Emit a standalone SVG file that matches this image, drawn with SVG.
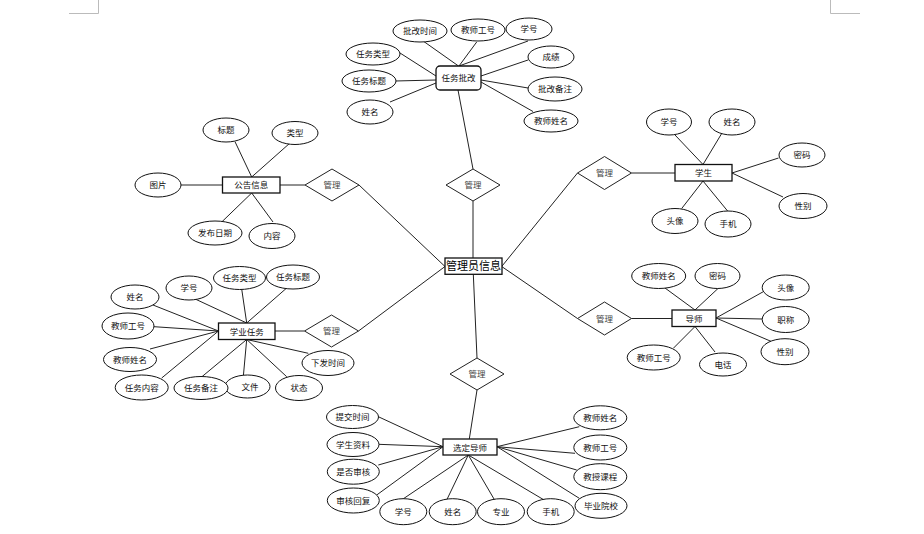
<svg xmlns="http://www.w3.org/2000/svg" width="924" height="534" viewBox="0 0 924 534">
<style>
.e{fill:#fff;stroke:#111;stroke-width:1}
.r{fill:#fff;stroke:#111;stroke-width:1.3}
.d{fill:#fff;stroke:#222;stroke-width:1}
.t{font-family:"Noto Sans CJK SC","Liberation Sans",sans-serif;font-size:8.5px;fill:#111;text-anchor:middle}
.dt{font-family:"Noto Sans CJK SC","Liberation Sans",sans-serif;font-size:8.5px;fill:#444;text-anchor:middle}
.big{font-family:"Noto Sans CJK SC","Liberation Sans",sans-serif;font-size:11px;fill:#000;text-anchor:middle}
.c line{stroke:#222;stroke-width:1}
.crop{stroke:#bbb;stroke-width:1;fill:none}
</style>
<rect width="924" height="534" fill="#fff"/>
<path class="crop" d="M98.5 0V13.5H69"/>
<path class="crop" d="M830.5 0V13.5H860"/>

<g id="connectors" class="c">
<!-- 任务批改 -->
<line x1="421.7" y1="40" x2="458.5" y2="66"/>
<line x1="476.7" y1="42" x2="459" y2="66"/>
<line x1="528" y1="41" x2="459" y2="66"/>
<line x1="400" y1="53" x2="436" y2="76"/>
<line x1="395" y1="81" x2="436" y2="80"/>
<line x1="390" y1="102" x2="436" y2="83"/>
<line x1="528" y1="60" x2="481" y2="76"/>
<line x1="528" y1="88" x2="481" y2="80"/>
<line x1="533" y1="111.5" x2="481" y2="82"/>
<line x1="458" y1="90" x2="473" y2="169"/>
<!-- 公告信息 -->
<line x1="235" y1="141.7" x2="251.7" y2="177"/>
<line x1="290" y1="143" x2="251.7" y2="177"/>
<line x1="181" y1="185" x2="222.5" y2="185"/>
<line x1="280" y1="185" x2="305" y2="185"/>
<line x1="251.7" y1="193" x2="221.7" y2="222"/>
<line x1="251.7" y1="193" x2="273" y2="222"/>
<line x1="359" y1="185" x2="445" y2="266.5"/>
<!-- 学生 -->
<line x1="675" y1="135" x2="703" y2="164.5"/>
<line x1="721.7" y1="133.5" x2="703" y2="164.5"/>
<line x1="732" y1="173" x2="778.5" y2="158"/>
<line x1="732" y1="173" x2="783" y2="197"/>
<line x1="703" y1="181" x2="681.7" y2="208.5"/>
<line x1="703" y1="181" x2="728" y2="211.5"/>
<line x1="675" y1="173" x2="631.5" y2="173"/>
<line x1="577.5" y1="173" x2="501.7" y2="266.5"/>
<!-- 管理员信息 -->
<line x1="473" y1="201" x2="473" y2="258"/>
<line x1="473.3" y1="274" x2="477" y2="358"/>
<!-- 学业任务 -->
<line x1="193" y1="298" x2="246.7" y2="323"/>
<line x1="241.7" y1="289" x2="246.7" y2="323"/>
<line x1="286.7" y1="288" x2="246.7" y2="323"/>
<line x1="153" y1="305" x2="218.5" y2="331"/>
<line x1="154" y1="326.7" x2="218.5" y2="331"/>
<line x1="150" y1="349" x2="218.5" y2="331"/>
<line x1="161.7" y1="378" x2="218.5" y2="331"/>
<line x1="200" y1="378.3" x2="246.7" y2="339.5"/>
<line x1="243.3" y1="376.7" x2="246.7" y2="339.5"/>
<line x1="286.7" y1="376.7" x2="246.7" y2="339.5"/>
<line x1="308.3" y1="353.3" x2="246.7" y2="339.5"/>
<line x1="275" y1="331" x2="304.5" y2="331"/>
<line x1="358.5" y1="331" x2="445" y2="266.5"/>
<!-- 导师 -->
<line x1="695" y1="310" x2="665" y2="288"/>
<line x1="695" y1="310" x2="718" y2="288.5"/>
<line x1="716" y1="318" x2="763.3" y2="291.7"/>
<line x1="716" y1="318" x2="762.3" y2="319"/>
<line x1="716" y1="318" x2="773.3" y2="342.3"/>
<line x1="695" y1="326.5" x2="673.3" y2="348.3"/>
<line x1="695" y1="326.5" x2="715" y2="352"/>
<line x1="672" y1="318.5" x2="631.5" y2="318.5"/>
<line x1="577.5" y1="318.5" x2="501.7" y2="266.5"/>
<!-- 选定导师 -->
<line x1="477" y1="390" x2="469.3" y2="439"/>
<line x1="378.3" y1="416.7" x2="443" y2="446.7"/>
<line x1="378.3" y1="444.3" x2="443" y2="446.7"/>
<line x1="378.3" y1="465" x2="443" y2="446.7"/>
<line x1="376.7" y1="495" x2="443" y2="446.7"/>
<line x1="497" y1="446.7" x2="579.3" y2="426.7"/>
<line x1="497" y1="446.7" x2="575" y2="453.3"/>
<line x1="497" y1="446.7" x2="576.7" y2="470"/>
<line x1="497" y1="446.7" x2="579.3" y2="498.3"/>
<line x1="468.3" y1="455" x2="400" y2="501"/>
<line x1="468.3" y1="455" x2="446.7" y2="500"/>
<line x1="468.3" y1="455" x2="495" y2="500.7"/>
<line x1="468.3" y1="455" x2="546.7" y2="501.5"/>
</g>

<!-- 任务批改 cluster -->
<g id="task-review">
<rect class="r" x="436" y="66" width="45" height="24" rx="4"/>
<text class="t" x="458.5" y="81">任务批改</text>
</g>
<g id="tr-time"><ellipse class="e" cx="420" cy="31" rx="27" ry="11"/><text class="t" x="420" y="34">批改时间</text></g>
<g id="tr-tno"><ellipse class="e" cx="478" cy="30" rx="27" ry="11"/><text class="t" x="478" y="33">教师工号</text></g>
<g id="tr-sno"><ellipse class="e" cx="529" cy="29" rx="23" ry="11"/><text class="t" x="529" y="32">学号</text></g>
<g id="tr-type"><ellipse class="e" cx="373" cy="54" rx="27" ry="11"/><text class="t" x="373" y="57">任务类型</text></g>
<g id="tr-title"><ellipse class="e" cx="369" cy="81" rx="27" ry="11"/><text class="t" x="369" y="84">任务标题</text></g>
<g id="tr-name"><ellipse class="e" cx="370" cy="112" rx="23" ry="12"/><text class="t" x="370" y="115">姓名</text></g>
<g id="tr-score"><ellipse class="e" cx="551" cy="57" rx="23" ry="11"/><text class="t" x="551" y="60">成绩</text></g>
<g id="tr-note"><ellipse class="e" cx="555" cy="89" rx="27" ry="12"/><text class="t" x="555" y="92">批改备注</text></g>
<g id="tr-tname"><ellipse class="e" cx="551" cy="121" rx="27" ry="11"/><text class="t" x="551" y="124">教师姓名</text></g>

<!-- 公告信息 cluster -->
<g id="notice"><rect class="r" x="222.5" y="177" width="57.5" height="16"/><text class="t" x="251.2" y="188">公告信息</text></g>
<g id="n-title"><ellipse class="e" cx="226" cy="130" rx="23" ry="12"/><text class="t" x="226" y="133">标题</text></g>
<g id="n-type"><ellipse class="e" cx="295" cy="133" rx="23" ry="11.5"/><text class="t" x="295" y="136">类型</text></g>
<g id="n-pic"><ellipse class="e" cx="158" cy="185" rx="23" ry="12"/><text class="t" x="158" y="188">图片</text></g>
<g id="n-date"><ellipse class="e" cx="215" cy="233" rx="27" ry="12"/><text class="t" x="215" y="236">发布日期</text></g>
<g id="n-content"><ellipse class="e" cx="272" cy="236" rx="23" ry="12.5"/><text class="t" x="272" y="239">内容</text></g>
<g id="d-notice"><polygon class="d" points="305,185 332,169 359,185 332,201"/><text class="dt" x="332" y="188">管理</text></g>

<!-- 任务批改 diamond -->
<g id="d-review"><polygon class="d" points="446,185 473,169 500,185 473,201"/><text class="dt" x="473" y="188">管理</text></g>

<!-- 学生 cluster -->
<g id="student"><rect class="r" x="675" y="164.5" width="57" height="16.5"/><text class="t" x="703.5" y="176">学生</text></g>
<g id="s-sno"><ellipse class="e" cx="669" cy="122" rx="22.5" ry="13"/><text class="t" x="669" y="125">学号</text></g>
<g id="s-name"><ellipse class="e" cx="732" cy="122" rx="23" ry="13"/><text class="t" x="732" y="125">姓名</text></g>
<g id="s-pwd"><ellipse class="e" cx="802" cy="155" rx="23" ry="12"/><text class="t" x="802" y="158">密码</text></g>
<g id="s-sex"><ellipse class="e" cx="803" cy="206" rx="24" ry="12.5"/><text class="t" x="803" y="209">性别</text></g>
<g id="s-avatar"><ellipse class="e" cx="675" cy="221" rx="23" ry="12.5"/><text class="t" x="675" y="224">头像</text></g>
<g id="s-phone"><ellipse class="e" cx="728" cy="224" rx="23" ry="13"/><text class="t" x="728" y="227">手机</text></g>
<g id="d-student"><polygon class="d" points="577.5,173 604.5,156.5 631.5,173 604.5,189.5"/><text class="dt" x="604.5" y="176">管理</text></g>

<!-- 管理员信息 -->
<g id="admin"><rect class="r" x="445" y="258" width="57" height="16.3"/><text class="big" x="473.5" y="270">管理员信息</text></g>

<!-- 学业任务 cluster -->
<g id="task"><rect class="r" x="218.5" y="323" width="56.5" height="16.5"/><text class="t" x="246.7" y="334.5">学业任务</text></g>
<g id="t-sno"><ellipse class="e" cx="189" cy="288" rx="23" ry="12"/><text class="t" x="189" y="291">学号</text></g>
<g id="t-type"><ellipse class="e" cx="239.5" cy="278" rx="26" ry="11.5"/><text class="t" x="239.5" y="281">任务类型</text></g>
<g id="t-title"><ellipse class="e" cx="293" cy="277" rx="26.5" ry="12"/><text class="t" x="293" y="280">任务标题</text></g>
<g id="t-name"><ellipse class="e" cx="135" cy="297" rx="24" ry="12"/><text class="t" x="135" y="300">姓名</text></g>
<g id="t-tno"><ellipse class="e" cx="128" cy="326" rx="26" ry="13"/><text class="t" x="128" y="329">教师工号</text></g>
<g id="t-tname"><ellipse class="e" cx="130" cy="359.5" rx="26.5" ry="12"/><text class="t" x="130" y="362.5">教师姓名</text></g>
<g id="t-content"><ellipse class="e" cx="141.7" cy="387.5" rx="26.5" ry="12.5"/><text class="t" x="141.7" y="390.5">任务内容</text></g>
<g id="t-file"><ellipse class="e" cx="247.5" cy="386.5" rx="22.5" ry="11.5"/><text class="t" x="250" y="389.5">文件</text></g>
<g id="t-note"><ellipse class="e" cx="201" cy="388" rx="27" ry="11.5"/><text class="t" x="201" y="391">任务备注</text></g>
<g id="t-state"><ellipse class="e" cx="299" cy="388" rx="23.5" ry="12.5"/><text class="t" x="299" y="391">状态</text></g>
<g id="t-time"><ellipse class="e" cx="328" cy="363" rx="26" ry="12.5"/><text class="t" x="328" y="366">下发时间</text></g>
<g id="d-task"><polygon class="d" points="304.5,331 331.5,315 358.5,331 331.5,347"/><text class="dt" x="331.5" y="334">管理</text></g>

<!-- 导师 cluster -->
<g id="tutor"><rect class="r" x="672" y="310" width="44" height="16.5"/><text class="t" x="694" y="321.5">导师</text></g>
<g id="u-tname"><ellipse class="e" cx="658.7" cy="276" rx="27" ry="12.5"/><text class="t" x="658.7" y="279">教师姓名</text></g>
<g id="u-pwd"><ellipse class="e" cx="717.5" cy="276" rx="22.5" ry="12.5"/><text class="t" x="717.5" y="279">密码</text></g>
<g id="u-avatar"><ellipse class="e" cx="785.7" cy="287.5" rx="23.5" ry="12.5"/><text class="t" x="785.7" y="290.5">头像</text></g>
<g id="u-title"><ellipse class="e" cx="785.7" cy="319.5" rx="23.5" ry="13"/><text class="t" x="785.7" y="322.5">职称</text></g>
<g id="u-sex"><ellipse class="e" cx="785" cy="351.7" rx="24" ry="13"/><text class="t" x="785" y="354.7">性别</text></g>
<g id="u-tno"><ellipse class="e" cx="653.7" cy="357.5" rx="26.5" ry="12.5"/><text class="t" x="653.7" y="360.5">教师工号</text></g>
<g id="u-tel"><ellipse class="e" cx="723" cy="364.5" rx="23.5" ry="11.5"/><text class="t" x="723" y="367.5">电话</text></g>
<g id="d-tutor"><polygon class="d" points="577.5,318.5 604.5,302 631.5,318.5 604.5,335"/><text class="dt" x="604.5" y="321.5">管理</text></g>

<!-- 选定导师 cluster -->
<g id="choose"><rect class="r" x="443" y="439" width="54" height="16"/><text class="t" x="470" y="450.5">选定导师</text></g>
<g id="d-choose"><polygon class="d" points="450,374 477,358 504,374 477,390"/><text class="dt" x="477" y="377">管理</text></g>
<g id="c-time"><ellipse class="e" cx="352.5" cy="417" rx="26" ry="11.5"/><text class="t" x="352.5" y="420">提交时间</text></g>
<g id="c-data"><ellipse class="e" cx="353" cy="444.5" rx="26" ry="12"/><text class="t" x="353" y="447.5">学生资料</text></g>
<g id="c-check"><ellipse class="e" cx="353.3" cy="471.7" rx="26" ry="12.5"/><text class="t" x="353.3" y="474.7">是否审核</text></g>
<g id="c-reply"><ellipse class="e" cx="353.3" cy="500.5" rx="26" ry="12.5"/><text class="t" x="353.3" y="503.5">审核回复</text></g>
<g id="c-sno"><ellipse class="e" cx="403.3" cy="511.7" rx="23.5" ry="13"/><text class="t" x="403.3" y="514.7">学号</text></g>
<g id="c-name"><ellipse class="e" cx="452.7" cy="511.7" rx="23.5" ry="13"/><text class="t" x="452.7" y="514.7">姓名</text></g>
<g id="c-major"><ellipse class="e" cx="501" cy="511.7" rx="23.5" ry="13"/><text class="t" x="501" y="514.7">专业</text></g>
<g id="c-phone"><ellipse class="e" cx="550.7" cy="511.7" rx="23.5" ry="13"/><text class="t" x="550.7" y="514.7">手机</text></g>
<g id="c-tname"><ellipse class="e" cx="600.3" cy="417.8" rx="26.5" ry="12"/><text class="t" x="600.3" y="420.8">教师姓名</text></g>
<g id="c-tno"><ellipse class="e" cx="600.3" cy="447.5" rx="26.5" ry="12.5"/><text class="t" x="600.3" y="450.5">教师工号</text></g>
<g id="c-course"><ellipse class="e" cx="600.3" cy="476.7" rx="26.5" ry="13"/><text class="t" x="600.3" y="479.7">教授课程</text></g>
<g id="c-school"><ellipse class="e" cx="601" cy="505.8" rx="26" ry="12.5"/><text class="t" x="601" y="508.8">毕业院校</text></g>
</svg>
